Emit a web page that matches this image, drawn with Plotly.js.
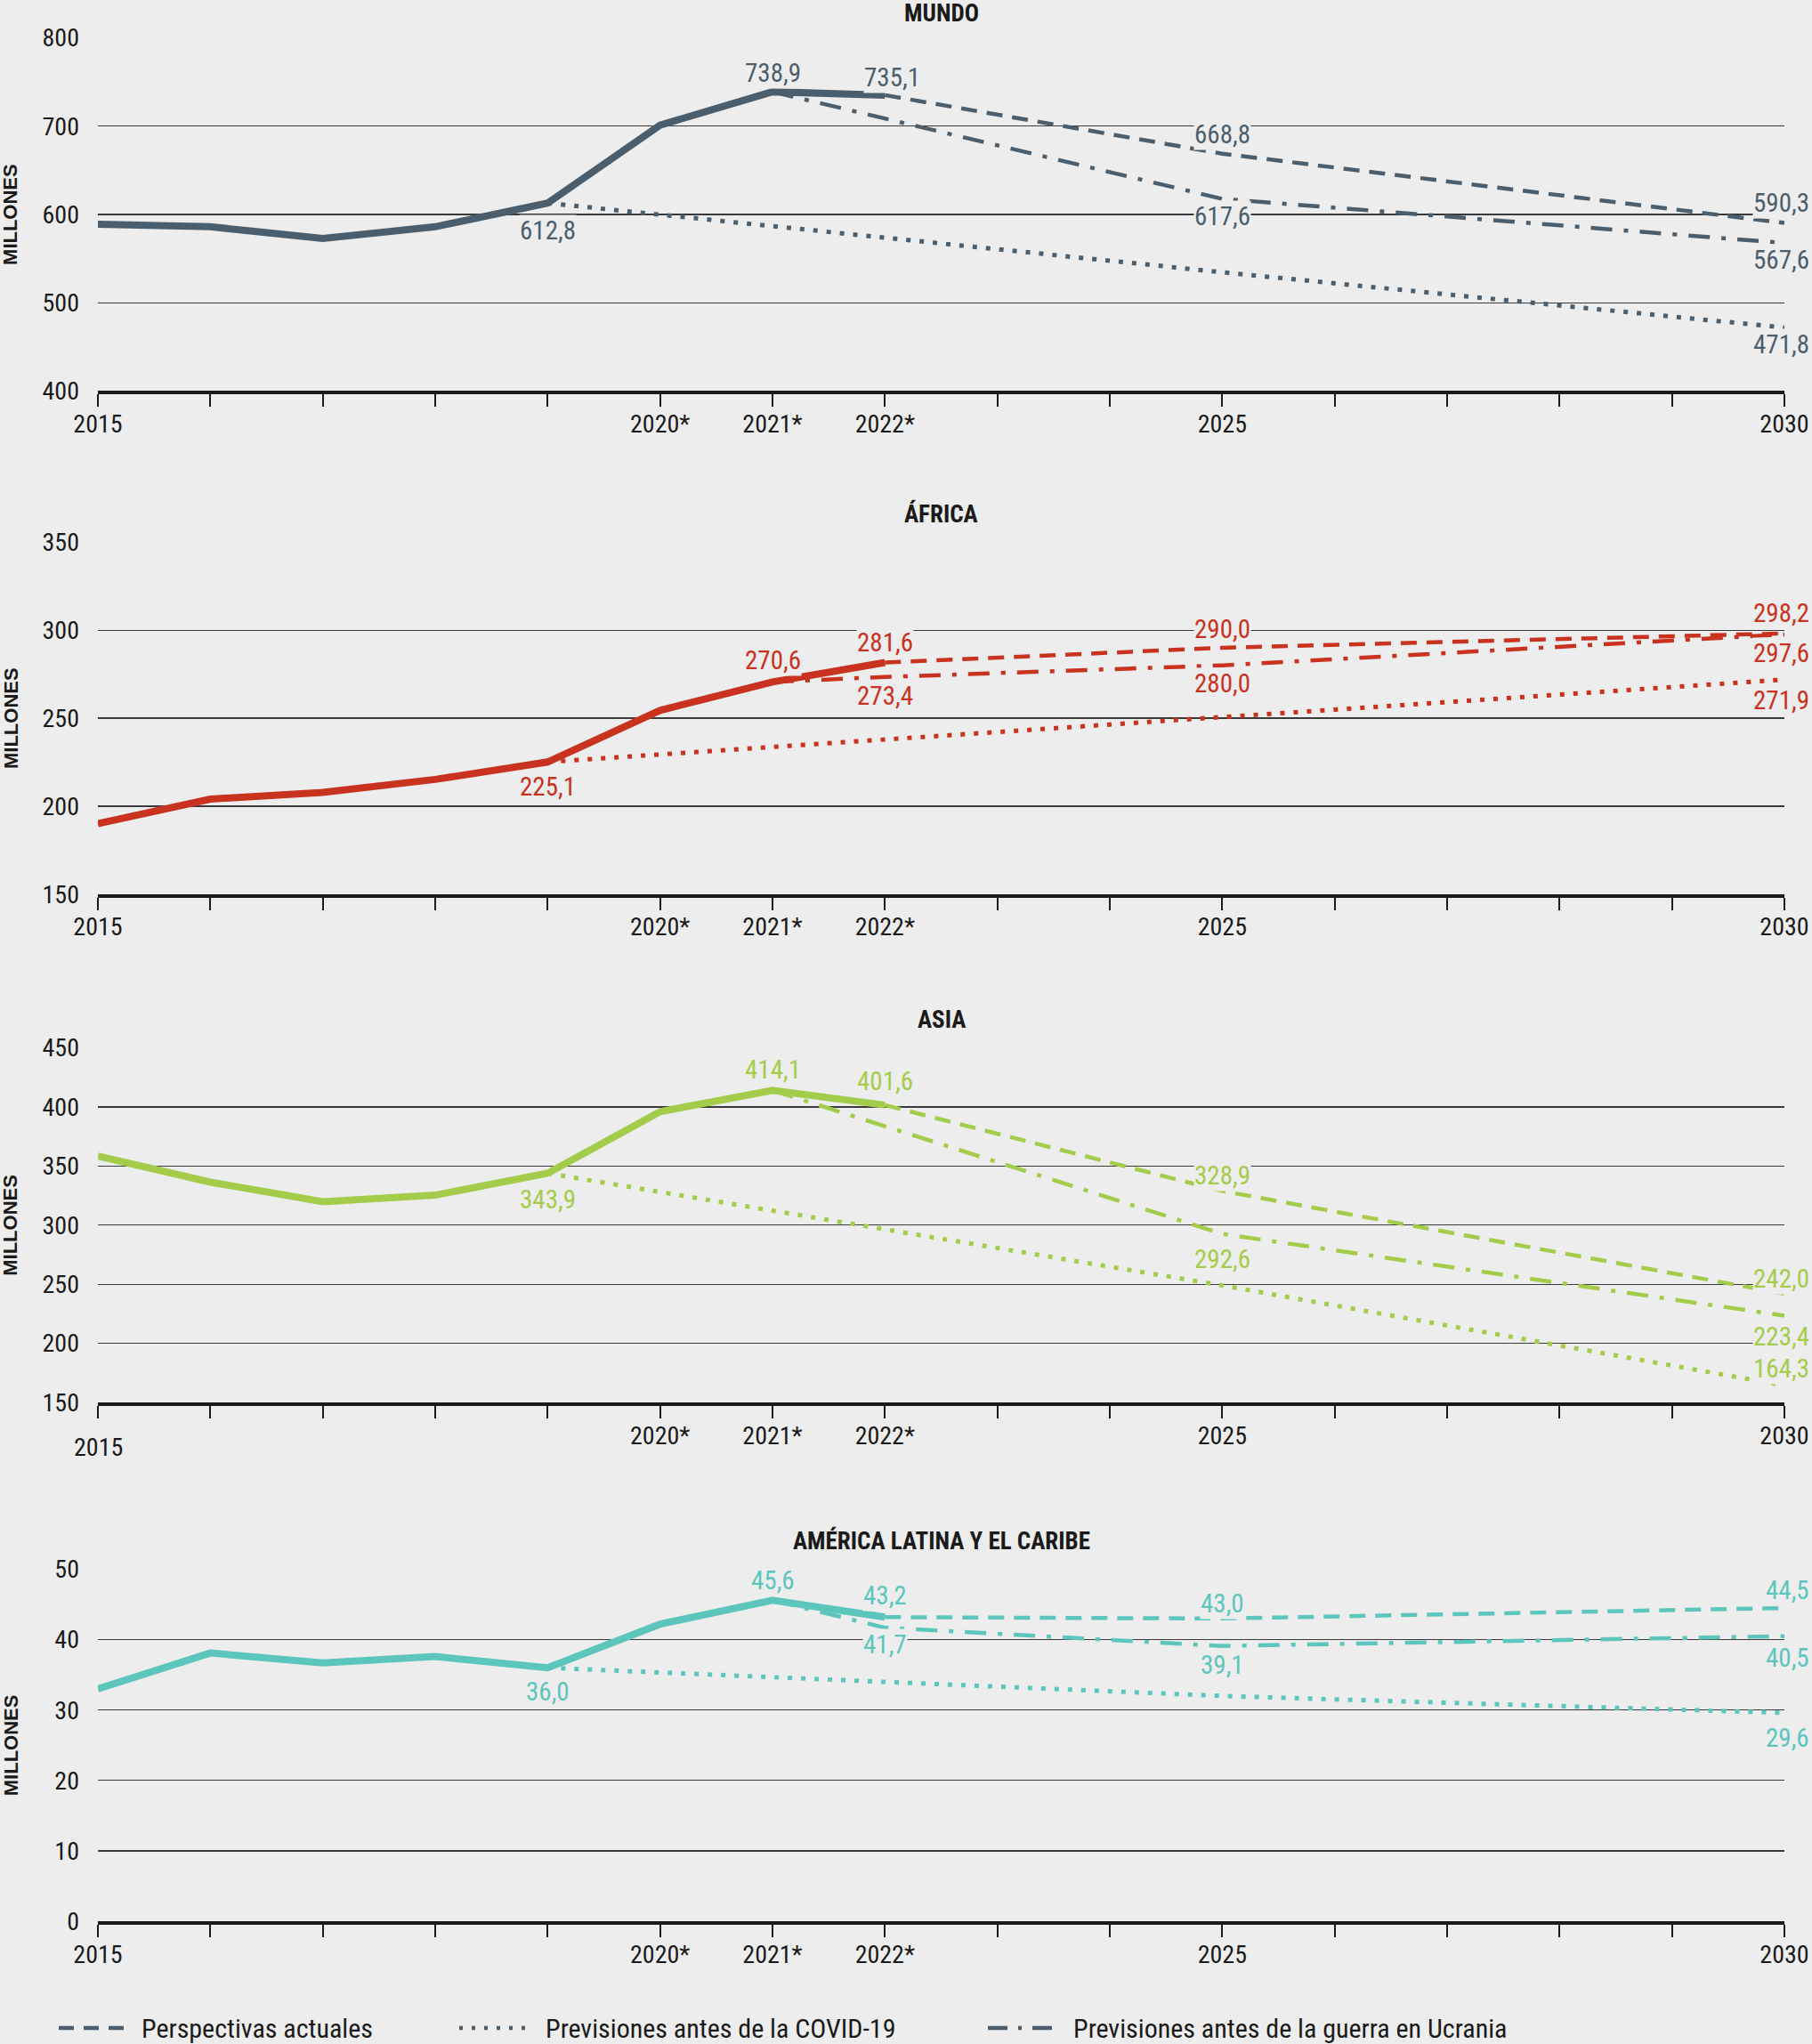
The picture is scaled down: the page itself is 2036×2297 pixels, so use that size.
<!DOCTYPE html>
<html>
<head>
<meta charset="utf-8">
<script src="https://cdn.plot.ly/plotly-3.0.1.min.js"></script>
<style>
html,body{margin:0;padding:0;background:#ededed;}
#chart{width:2036px;height:2297px;}
</style>
</head>
<body>
<div id="chart"></div>
<script>
// ---------------- DATA ----------------
const histYears = [2015, 2016, 2017, 2018, 2019, 2020, 2021, 2022];
const tickYears = [2015, 2016, 2017, 2018, 2019, 2020, 2021, 2022, 2023, 2024, 2025, 2026, 2027, 2028, 2029, 2030];
const tickLabels = ['2015', '', '', '', '', '2020*', '2021*', '2022*', '', '', '2025', '', '', '', '', '2030'];

const panelTitles = ['MUNDO', 'ÁFRICA', 'ASIA', 'AMÉRICA LATINA Y EL CARIBE'];
const legendNames = ['Perspectivas actuales', 'Previsiones antes de la COVID-19', 'Previsiones antes de la guerra en Ucrania'];
const yAxisTitle = 'MILLONES';

// MUNDO
const mundoHist = [588.9, 586.0, 572.7, 586.0, 612.8, 701.1, 738.9, 735.1];
const mundoActualYears = [2022, 2025, 2030];
const mundoActual = [735.1, 668.8, 590.3];
const mundoCovidYears = [2019, 2025, 2030];
const mundoCovid = [612.8, 534.5, 471.8];
const mundoUkrYears = [2021, 2025, 2030];
const mundoUkr = [738.9, 617.6, 567.6];

// ÁFRICA
const africaHist = [190.0, 204.0, 207.8, 215.2, 225.1, 254.4, 270.6, 281.6];
const africaActualYears = [2022, 2025, 2030];
const africaActual = [281.6, 290.0, 298.2];
const africaCovidYears = [2019, 2025, 2030];
const africaCovid = [225.1, 250.5, 271.9];
const africaUkrYears = [2021, 2022, 2025, 2030];
const africaUkr = [270.6, 273.4, 280.0, 297.6];

// ASIA
const asiaHist = [358.5, 336.4, 319.9, 325.4, 343.9, 396.0, 414.1, 401.6];
const asiaActualYears = [2022, 2025, 2030];
const asiaActual = [401.6, 328.9, 242.0];
const asiaCovidYears = [2019, 2025, 2030];
const asiaCovid = [343.9, 249.0, 164.3];
const asiaUkrYears = [2021, 2025, 2030];
const asiaUkr = [414.1, 292.6, 223.4];

// AMÉRICA LATINA Y EL CARIBE
const alcHist = [33.0, 38.1, 36.7, 37.6, 36.0, 42.2, 45.6, 43.2];
const alcActualYears = [2022, 2025, 2030];
const alcActual = [43.2, 43.0, 44.5];
const alcCovidYears = [2019, 2025, 2030];
const alcCovid = [36.0, 32.0, 29.6];
const alcUkrYears = [2021, 2022, 2025, 2030];
const alcUkr = [45.6, 41.7, 39.1, 40.5];

// ---------------- STYLE / LAYOUT ----------------
const W = 2036, H = 2297, L = 110, R = 31;
const PW = W - L - R;
const BG = '#ededed';
const INK = '#1a1a1a';
const FONT_C = '"Roboto Condensed", "Liberation Sans Narrow", "DejaVu Sans Condensed", "Arial Narrow", sans-serif';
const FONT_B = '"Liberation Sans", Arial, sans-serif';
const DASH = '18px,11px';
const DOT = '5px,10px';
const DASHDOT = '24px,13px,5px,13px';
const TICK_SIZE = 28, LABEL_SIZE = 29;

// panel pixel bounds (top gridline, axis line)
const panelPx = [[42.5, 439.4], [609.3, 1004.8], [1177.6, 1576.0], [1763.5, 2159.0]];

const panels = [
  {color: '#4b5e6d', range: [400, 800], tickvals: [400, 500, 600, 700, 800],
   hist: mundoHist, actX: mundoActualYears, act: mundoActual, covX: mundoCovidYears, cov: mundoCovid, ukrX: mundoUkrYears, ukr: mundoUkr,
   labels: [['hist', 2019, -31], ['hist', 2021, 21], ['hist', 2022, 20, 8], ['act', 2025, 22], ['ukr', 2025, -20],
            ['act', 2030, 23], ['ukr', 2030, -19], ['cov', 2030, -19]]},
  {color: '#c9321f', range: [150, 350], tickvals: [150, 200, 250, 300, 350],
   hist: africaHist, actX: africaActualYears, act: africaActual, covX: africaCovidYears, cov: africaCovid, ukrX: africaUkrYears, ukr: africaUkr,
   labels: [['hist', 2019, -28], ['hist', 2021, 24], ['hist', 2022, 23], ['ukr', 2022, -21], ['act', 2025, 21], ['ukr', 2025, -20],
            ['act', 2030, 23], ['ukr', 2030, -21], ['cov', 2030, -23]]},
  {color: '#a4cc4b', range: [150, 450], tickvals: [150, 200, 250, 300, 350, 400, 450],
   hist: asiaHist, actX: asiaActualYears, act: asiaActual, covX: asiaCovidYears, cov: asiaCovid, ukrX: asiaUkrYears, ukr: asiaUkr,
   labels: [['hist', 2019, -29], ['hist', 2021, 23], ['hist', 2022, 27], ['act', 2025, 17], ['ukr', 2025, -28],
            ['act', 2030, 17], ['ukr', 2030, -23], ['cov', 2030, 19]]},
  {color: '#5cc6bd', range: [0, 50], tickvals: [0, 10, 20, 30, 40, 50],
   hist: alcHist, actX: alcActualYears, act: alcActual, covX: alcCovidYears, cov: alcCovid, ukrX: alcUkrYears, ukr: alcUkr,
   labels: [['hist', 2019, -27], ['hist', 2021, 22], ['hist', 2022, 24], ['ukr', 2022, -19], ['act', 2025, 17], ['ukr', 2025, -21],
            ['act', 2030, 20], ['ukr', 2030, -24], ['cov', 2030, -28]]}
];

const fmt = v => v.toFixed(1).replace('.', ',');
const py = p => 1 - p / H;          // pixel y -> paper y (margins t=b=0)
const px = p => (p - L) / PW;       // pixel x -> paper x

const traces = [];
const annotations = [];
const shapes = [];
const layout = {
  width: W, height: H,
  paper_bgcolor: BG, plot_bgcolor: BG,
  margin: {l: L, r: R, t: 0, b: 0, pad: 0},
  showlegend: false,
  font: {family: FONT_C, color: INK, size: TICK_SIZE},
  annotations: annotations,
  shapes: shapes
};

panels.forEach((p, i) => {
  const n = i === 0 ? '' : String(i + 1);
  const xa = 'x' + n, ya = 'y' + n;
  const [top, bot] = panelPx[i];

  const ticktext = tickLabels.slice();
  if (i === 2) ticktext[0] = '';   // 2015 label of ASIA sits lower in the original

  layout['xaxis' + n] = {
    domain: [0, 1], anchor: ya, range: [2015, 2030],
    tickmode: 'array', tickvals: tickYears, ticktext: ticktext,
    ticks: 'outside', ticklen: 14, tickwidth: 2, tickcolor: INK,
    showline: true, linewidth: 4, linecolor: INK,
    showgrid: false, zeroline: false, fixedrange: true,
    ticklabelstandoff: -5,
    tickfont: {family: FONT_C, size: TICK_SIZE, color: INK}
  };
  layout['yaxis' + n] = {
    domain: [py(bot), py(top)], anchor: xa, range: p.range,
    tickmode: 'array', tickvals: p.tickvals,
    showgrid: true, gridcolor: '#3a3a3a', gridwidth: 1.3,
    zeroline: false, showline: false, ticks: '', ticklabelstandoff: 20,
    fixedrange: true,
    tickfont: {family: FONT_C, size: TICK_SIZE, color: INK}
  };

  const common = {xaxis: xa, yaxis: ya, mode: 'lines', hoverinfo: 'skip', showlegend: false};
  traces.push(Object.assign({x: p.covX, y: p.cov, line: {color: p.color, width: 5, dash: DOT}}, common));
  traces.push(Object.assign({x: p.ukrX, y: p.ukr, line: {color: p.color, width: 4.5, dash: DASHDOT}}, common));
  traces.push(Object.assign({x: p.actX, y: p.act, line: {color: p.color, width: 4.5, dash: DASH}}, common));
  traces.push(Object.assign({x: histYears, y: p.hist, line: {color: p.color, width: 8}}, common));

  // value labels
  const series = {
    hist: [histYears, p.hist], act: [p.actX, p.act], cov: [p.covX, p.cov], ukr: [p.ukrX, p.ukr]
  };
  p.labels.forEach(([s, yr, off, xs]) => {
    const [xs_, vs] = series[s];
    const v = vs[xs_.indexOf(yr)];
    const atEnd = yr === 2030;
    annotations.push({
      xref: xa, yref: ya, x: yr, y: v, text: fmt(v), showarrow: false,
      xanchor: atEnd ? 'right' : 'center', yanchor: 'middle', yshift: off,
      xshift: atEnd ? 29 : (xs !== undefined ? xs : 0),
      font: {family: FONT_C, size: LABEL_SIZE, color: p.color},
      bgcolor: BG, borderpad: 0
    });
  });

  // panel title
  annotations.push({
    xref: 'paper', yref: 'paper', x: 0.5, y: py(i === 0 ? top - 27 : top - 32), text: '<b>' + panelTitles[i] + '</b>',
    showarrow: false, xanchor: 'center', yanchor: 'middle',
    font: {family: FONT_C, size: 27, color: INK}
  });
  // y axis title
  annotations.push({
    xref: 'paper', yref: 'paper', x: px(12), y: py((top + bot) / 2), text: '<b>' + yAxisTitle + '</b>',
    textangle: -90, showarrow: false, xanchor: 'center', yanchor: 'middle',
    font: {family: FONT_B, size: 22, color: INK}
  });
});

// ASIA 2015 tick label (lower than the others in the original)
annotations.push({
  xref: 'x3', yref: 'paper', x: 2015, y: py(1626), text: tickLabels[0], showarrow: false,
  xanchor: 'center', yanchor: 'middle', font: {family: FONT_C, size: TICK_SIZE, color: INK}
});

// manual legend
const legendY = py(2279);
const legendItems = [
  {x0: 66, x1: 139, tx: 157, dash: '17px,11px'},
  {x0: 516, x1: 593, tx: 611, dash: '4px,10px'},
  {x0: 1110, x1: 1184, tx: 1204, dash: '22px,12px,4px,12px'}
];
legendItems.forEach((it, k) => {
  shapes.push({type: 'line', xref: 'paper', yref: 'paper', x0: px(it.x0), x1: px(it.x1), y0: legendY, y1: legendY,
               line: {color: panels[0].color, width: 4.5, dash: it.dash}});
  annotations.push({xref: 'paper', yref: 'paper', x: px(it.tx), y: legendY, text: legendNames[k], showarrow: false,
                    xanchor: 'left', yanchor: 'middle', font: {family: FONT_C, size: 30, color: INK}});
});

Plotly.newPlot('chart', traces, layout, {staticPlot: true, displayModeBar: false});
</script>
</body>
</html>
